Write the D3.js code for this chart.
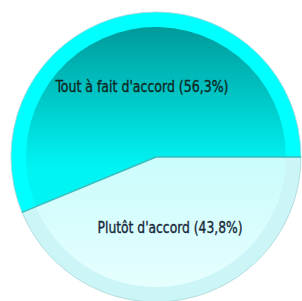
<!DOCTYPE html>
<html><head><meta charset="utf-8">
<script src="https://cdn.jsdelivr.net/npm/d3@7"></script>
<style>html,body{margin:0;padding:0;background:#fff;}svg{display:block;}</style>
</head><body>
<svg id="chart" width="302" height="301"></svg>
<script>
const categories = ["Tout à fait d'accord", "Plutôt d'accord"];
const values = [56.3, 43.8];
const valueLabels = ["56,3%", "43,8%"];

const svg = d3.select("#chart");
const cx = 156, cy = 157, R = 145, rim = 15;
const g = svg.append("g").attr("transform", `translate(${cx},${cy})`);

const total = d3.sum(values);
const start = Math.PI / 2 - 2 * Math.PI * values[0] / total;
const pie = d3.pie().sort(null).startAngle(start).endAngle(start + 2 * Math.PI);
const arcs = pie(values);

const defs = svg.append("defs");
const g1 = defs.append("linearGradient").attr("id", "gTop")
  .attr("gradientUnits", "userSpaceOnUse").attr("x1", 0).attr("x2", 0)
  .attr("y1", -R + rim).attr("y2", 10);
g1.append("stop").attr("offset", 0).attr("stop-color", "#009a9a");
g1.append("stop").attr("offset", 0.45).attr("stop-color", "#00c2c2");
g1.append("stop").attr("offset", 1).attr("stop-color", "#00f4f4");
const g2 = defs.append("linearGradient").attr("id", "gBot")
  .attr("gradientUnits", "userSpaceOnUse").attr("x1", 0).attr("x2", 0)
  .attr("y1", 0).attr("y2", R - rim);
g2.append("stop").attr("offset", 0).attr("stop-color", "#cafcfc");
g2.append("stop").attr("offset", 1).attr("stop-color", "#e6fefe");

const rimColors = ["#00ffff", "#cbf5f7"];
const innerFills = ["url(#gTop)", "url(#gBot)"];

const outerArc = d3.arc().innerRadius(0).outerRadius(R);
const innerArc = d3.arc().innerRadius(0).outerRadius(R - rim);
const labelArc = d3.arc().innerRadius(72).outerRadius(72);

g.selectAll("path.rim").data(arcs).join("path").attr("class", "rim")
  .attr("d", outerArc).attr("fill", (d, i) => rimColors[i]);
g.selectAll("path.inner").data(arcs).join("path").attr("class", "inner")
  .attr("d", innerArc).attr("fill", (d, i) => innerFills[i]);

// outer soft border
g.append("circle").attr("r", R).attr("fill", "none")
  .attr("stroke", "#a9d6d8").attr("stroke-width", 1).attr("stroke-opacity", 0.8);

// slice boundaries
g.selectAll("path.edge").data(arcs).join("path").attr("class", "edge")
  .attr("d", d => {
    const a = d.startAngle;
    return `M0,0L${R * Math.sin(a)},${-R * Math.cos(a)}`;
  })
  .attr("stroke", "#3cbcbc").attr("stroke-width", 1.4).attr("fill", "none");

const widths = [173, 145];
const textColors = ["#10281f", "#18283a"];
g.selectAll("text.lbl").data(arcs).join("text").attr("class", "lbl")
  .attr("transform", d => { const c = labelArc.centroid(d); return `translate(${c[0]},${c[1]})`; })
  .attr("text-anchor", "middle").attr("dy", "0.35em")
  .attr("font-family", "'Liberation Sans Narrow', 'DejaVu Sans Condensed', 'Liberation Sans', sans-serif")
  .attr("font-size", 16)
  .attr("textLength", (d, i) => widths[i]).attr("lengthAdjust", "spacingAndGlyphs")
  .attr("fill", (d, i) => textColors[i])
  .attr("stroke", (d, i) => textColors[i]).attr("stroke-width", 0.35)
  .text((d, i) => `${categories[i]} (${valueLabels[i]})`);
</script>
</body></html>
